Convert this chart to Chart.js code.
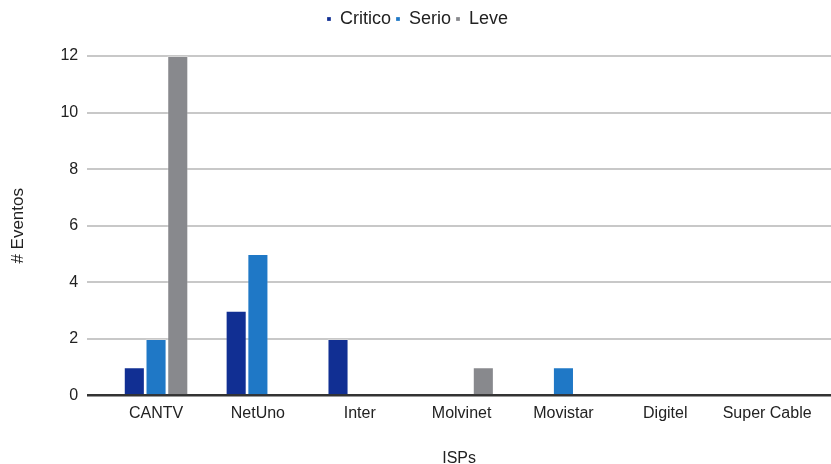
<!DOCTYPE html>
<html><head><meta charset="utf-8">
<script src="https://cdn.jsdelivr.net/npm/chart.js@4/dist/chart.umd.min.js"></script>
<style>html,body{margin:0;padding:0;background:#fff}#wrap{width:831px;height:464px}</style>
</head><body><div id="wrap"><canvas id="c" width="831" height="464"></canvas></div>
<script>
const categories = ["CANTV","NetUno","Inter","Molvinet","Movistar","Digitel","Super Cable"];
const critico = [1,3,2,0,0,0,0];
const serio = [2,5,0,0,1,0,0];
const leve = [12,0,0,1,0,0,0];
const yTicks = [0,2,4,6,8,10,12];

const toPts = arr => arr.map((v,i)=>({x:i,y:v}));
const fam = "'Liberation Sans', Arial, sans-serif";
const legendMargin = {id:'legendMargin', beforeInit(chart){
  const fit = chart.legend.fit;
  chart.legend.fit = function(){ fit.bind(chart.legend)(); this.height += 18; };
}};
new Chart(document.getElementById('c'), {
  type:'bar',
  data:{datasets:[
    {label:'Critico', data:toPts(critico), backgroundColor:'#112f93', borderColor:'rgba(255,255,255,0.25)', borderWidth:1},
    {label:'Serio', data:toPts(serio), backgroundColor:'#1f78c6', borderColor:'rgba(255,255,255,0.25)', borderWidth:1},
    {label:'Leve', data:toPts(leve), backgroundColor:'#88898d', borderColor:'rgba(255,255,255,0.25)', borderWidth:1}
  ]},
  plugins:[legendMargin],
  options:{
    responsive:false, animation:false,
    categoryPercentage:0.64, barPercentage:0.97,
    layout:{padding:{top:5,left:4,right:0,bottom:-4}},
    plugins:{
      legend:{position:'top', labels:{font:{family:fam,size:18}, color:'#222', boxWidth:4, boxHeight:4, padding:5}},
      tooltip:{enabled:false}
    },
    scales:{
      x:{type:'linear', offset:false, min:-0.676, max:6.627,
        afterBuildTicks: ax => { ax.ticks = categories.map((_,i)=>({value:i})); },
        ticks:{callback:v=>categories[v], font:{family:fam,size:16}, color:'#222', padding:8, maxRotation:0, autoSkip:false},
        grid:{display:false, drawTicks:false, tickLength:0}, border:{display:false},
        title:{display:true, text:'ISPs', font:{family:fam,size:16}, color:'#222', padding:{top:18,bottom:0}}
      },
      y:{min:0, max:12,
        afterBuildTicks: ax => { ax.ticks = yTicks.map(v=>({value:v})); },
        ticks:{font:{family:fam,size:16}, color:'#222', padding:9},
        grid:{color:c=>c.tick && c.tick.value===0 ? '#333' : '#c8c8c8', lineWidth:c=>c.tick && c.tick.value===0 ? 2.5 : 2, tickLength:0, drawTicks:false},
        border:{display:false},
        title:{display:true, text:'# Eventos', font:{family:fam,size:17}, color:'#222', padding:{top:4,bottom:23}}
      }
    }
  }
});
</script></body></html>
